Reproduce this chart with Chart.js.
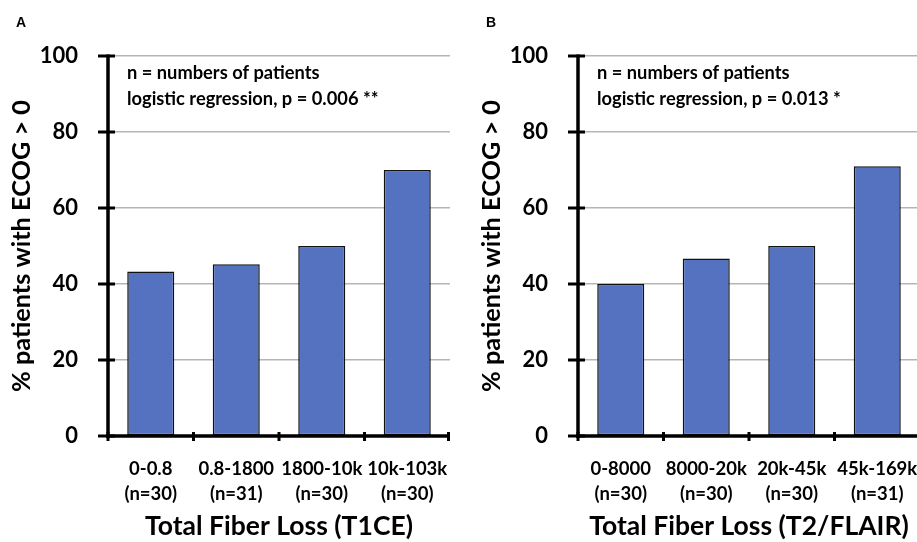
<!DOCTYPE html>
<html>
<head>
<meta charset="utf-8">
<script src="https://cdn.jsdelivr.net/npm/chart.js@4.4.1/dist/chart.umd.min.js"></script>
<style>
  html, body { margin: 0; padding: 0; background: #fff; overflow: hidden; width: 917px; height: 542px; }
  .panel { position: absolute; top: 0; width: 450px; height: 542px; }
  #pa { left: 0; }
  #pb { left: 470px; }
</style>
</head>
<body>
<div class="panel" id="pa"><canvas id="chartA" width="450" height="542"></canvas></div>
<div class="panel" id="pb"><canvas id="chartB" width="450" height="542"></canvas></div>
<script>
const labelsA = [['0-0.8', '(n=30)'], ['0.8-1800', '(n=31)'], ['1800-10k', '(n=30)'], ['10k-103k', '(n=30)']]
const valuesA = [43.3, 45.2, 50.0, 70.0]
const labelsB = [['0-8000', '(n=30)'], ['8000-20k', '(n=30)'], ['20k-45k', '(n=30)'], ['45k-169k', '(n=31)']]
const valuesB = [40.0, 46.7, 50.0, 71.0]
const yTicks = [0, 20, 40, 60, 80, 100]

const FONT = 'Lato'

// axis lines + ticks that cross the axis, like the original
const crossAxes = {
  id: 'crossAxes',
  afterDatasetsDraw(chart) {
    const { ctx, chartArea: a, scales: { x, y } } = chart
    ctx.save()
    ctx.strokeStyle = '#000'
    ctx.lineCap = 'butt'
    ctx.lineWidth = 3.5
    ctx.beginPath()
    ctx.moveTo(a.left, y.getPixelForValue(100) - 1.5)
    ctx.lineTo(a.left, a.bottom + 2)
    ctx.moveTo(a.left - 2, a.bottom)
    ctx.lineTo(a.right, a.bottom)
    ctx.stroke()
    ctx.lineWidth = 3
    ctx.beginPath()
    yTicks.forEach(v => {
      const py = y.getPixelForValue(v)
      ctx.moveTo(a.left - 10, py)
      ctx.lineTo(a.left + 7, py)
    })
    const n = chart.data.labels.length
    for (let i = 0; i <= n; i++) {
      const px = Math.min(x.getPixelForValue(i - 0.5), a.right - 1.5)
      ctx.moveTo(px, a.bottom - 4)
      ctx.lineTo(px, a.bottom + 5)
    }
    ctx.stroke()
    ctx.restore()
  }
}

const notes = {
  id: 'notes',
  afterDraw(chart, args, opts) {
    const { ctx, chartArea: a } = chart
    ctx.save()
    ctx.fillStyle = '#000'
    ctx.textBaseline = 'alphabetic'
    ctx.textAlign = 'left'
    ctx.font = `bold 18.3px ${FONT}`
    ctx.fillText('n = numbers of patients', a.left + 19, a.top + 23)
    ctx.fillText(opts.stat, a.left + 19, a.top + 49)
    ctx.font = 'bold 14px "Liberation Sans"'
    ctx.textAlign = 'center'
    ctx.textBaseline = 'middle'
    ctx.fillText(opts.letter, 21, 23)
    ctx.restore()
  }
}

function makeChart(id, labels, values, xTitle, stat, letter) {
  return new Chart(document.getElementById(id), {
    type: 'bar',
    data: {
      labels,
      datasets: [{
        data: values,
        backgroundColor: '#5572c1',
        borderColor: '#111',
        borderWidth: 1.5,
        borderSkipped: false,
        categoryPercentage: 1,
        barPercentage: 0.55,
      }]
    },
    options: {
      responsive: false,
      animation: false,
      layout: { padding: { top: 56, left: 0, right: 0, bottom: 0 } },
      plugins: {
        legend: { display: false },
        tooltip: { enabled: false },
        notes: { stat, letter },
      },
      scales: {
        x: {
          grid: { display: false, drawTicks: false },
          border: { display: false },
          ticks: { color: '#000', padding: 20.5, autoSkip: false, font: { family: FONT, weight: 'bold', size: 18.5, lineHeight: 1.35 }, maxRotation: 0 },
          title: { display: true, text: xTitle, color: '#000', padding: { top: 0, bottom: 0 }, font: { family: FONT, weight: 'bold', size: 26.5 } },
          afterFit: s => { s.height = 106; s.paddingLeft = 0; s.paddingRight = 0 },
        },
        y: {
          min: 0, max: 100,
          afterBuildTicks: s => { s.ticks = yTicks.map(v => ({ value: v })) },
          grid: { color: '#b5b5b5', lineWidth: 1.5, drawTicks: false },
          border: { display: false },
          ticks: { color: '#000', padding: 30, font: { family: FONT, weight: 'bold', size: 22 } },
          title: { display: true, text: '% patients with ECOG > 0', color: '#000', padding: { top: 7, bottom: 0 }, font: { family: FONT, weight: 'bold', size: 25.3 } },
          afterFit: s => { s.width = 108 },
        }
      }
    },
    plugins: [crossAxes, notes]
  })
}

makeChart('chartA', labelsA, valuesA, 'Total Fiber Loss (T1CE)', 'logistic regression, p = 0.006 **', 'A')
makeChart('chartB', labelsB, valuesB, 'Total Fiber Loss (T2/FLAIR)', 'logistic regression, p = 0.013 *', 'B')
</script>
</body>
</html>
